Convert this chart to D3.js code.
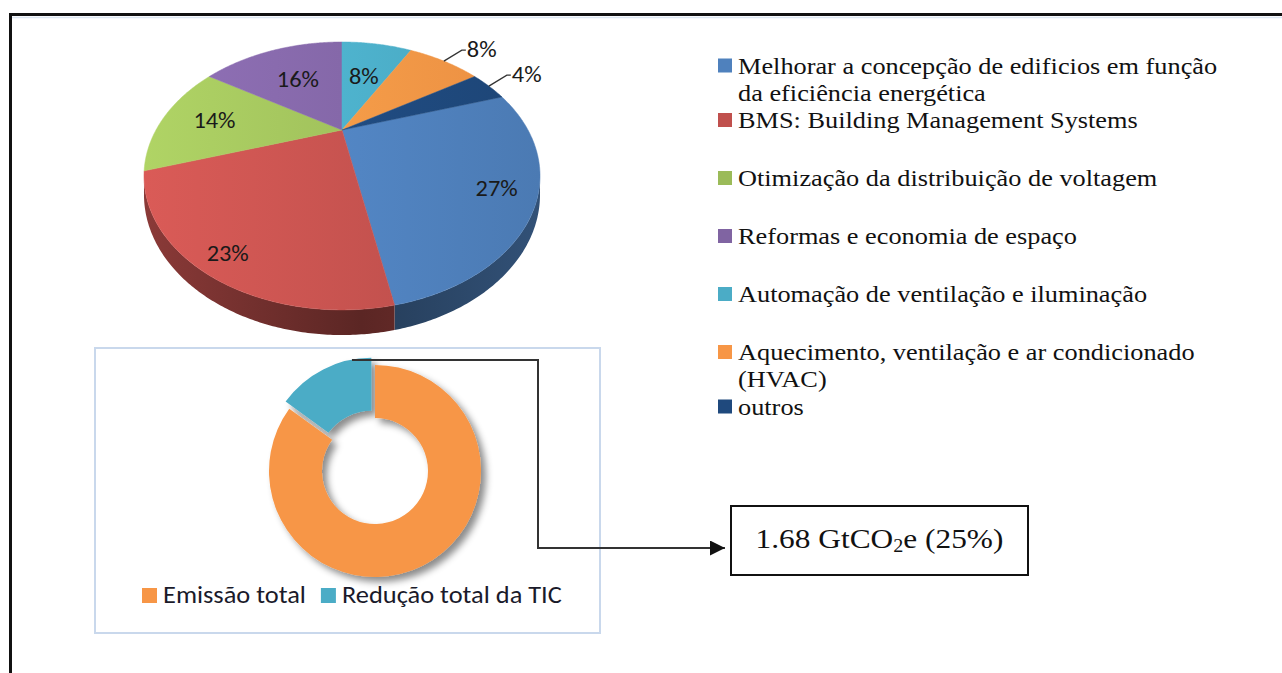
<!DOCTYPE html>
<html>
<head>
<meta charset="utf-8">
<script src="https://cdn.jsdelivr.net/npm/d3@7"></script>
<style>
  body { margin: 0; background: #fff; }
  svg { display: block; }
</style>
</head>
<body>
<div id="grafico"></div>
<script>
// dados
const categorias = [
    "Melhorar a concepção de edificios em função\nda eficiência energética",
    "BMS: Building Management Systems",
    "Otimização da distribuição de voltagem",
    "Reformas e economia de espaço",
    "Automação de ventilação e iluminação",
    "Aquecimento, ventilação e ar condicionado\n(HVAC)",
    "outros"
];
const valores = [27, 23, 14, 16, 8, 8, 4];
const cores = ["#4f81bd", "#c0504d", "#9bbb59", "#8064a2", "#4bacc6", "#f79646", "#1f497d"];
const rotuloFora = [false, false, false, false, false, true, true];

const roscaCategorias = ["Emissão total", "Redução total da TIC"];
const roscaValores = [85, 15];
const roscaCores = ["#f79646", "#4bacc6"];

const anotacao = ["1.68 GtCO", "2", "e (25%)"];

const W = 1282, H = 673;
const esticar = 1.12; // o texto da figura original está um pouco esticado na horizontal
const svg = d3.select("#grafico").append("svg").attr("width", W).attr("height", H);
const defs = svg.append("defs");

// moldura
svg.append("line").attr("x1", 9).attr("y1", 14.5).attr("x2", W).attr("y2", 14.5)
    .attr("stroke", "#111").attr("stroke-width", 3);
svg.append("line").attr("x1", 9).attr("y1", 17.5).attr("x2", W).attr("y2", 17.5)
    .attr("stroke", "#dce6f2").attr("stroke-width", 1.5);
svg.append("line").attr("x1", 10.5).attr("y1", 13).attr("x2", 10.5).attr("y2", H)
    .attr("stroke", "#111").attr("stroke-width", 3);

// --- PIZZA 3D ---
const pz = { cx: 342, cy: 130, R: 186, H: 118.2, B: -0.343, prof: 16.5 };
const proj = (t, r, baixo = 0) => {
    const u = r * Math.sin(t), v = -r * Math.cos(t);
    const w = 1 + pz.B * v;
    return [pz.cx + pz.R * u / w, pz.cy + pz.H * v / w + baixo * pz.prof / w];
};
const arco = (t0, t1, r, baixo) => {
    const n = Math.max(2, Math.ceil(Math.abs(t1 - t0) / 0.01));
    return d3.range(n + 1).map(i => proj(t0 + (t1 - t0) * i / n, r, baixo));
};

const inicio = 72 * Math.PI / 180;
const fatias = d3.pie().sort(null).startAngle(inicio).endAngle(inicio + 2 * Math.PI)(valores);

// gradientes
cores.forEach((c, i) => {
    const g = defs.append("linearGradient").attr("id", "topo" + i)
        .attr("gradientUnits", "userSpaceOnUse").attr("x1", 143).attr("y1", 0).attr("x2", 540).attr("y2", 0);
    g.append("stop").attr("offset", 0).attr("stop-color", d3.color(c).brighter(0.35));
    g.append("stop").attr("offset", 1).attr("stop-color", d3.color(c).darker(0.15));
    const s = defs.append("linearGradient").attr("id", "lado" + i)
        .attr("gradientUnits", "userSpaceOnUse").attr("x1", 143).attr("y1", 0).attr("x2", 540).attr("y2", 0);
    s.append("stop").attr("offset", 0).attr("stop-color", d3.color(c).darker(0.9));
    s.append("stop").attr("offset", 0.55).attr("stop-color", d3.color(c).darker(2.1));
    s.append("stop").attr("offset", 1).attr("stop-color", d3.color(c).darker(1.3));
});

const linha = d3.line();
const tEsq = Math.acos(pz.B), tDir = 2 * Math.PI - Math.acos(pz.B); // extremos da silhueta

const lados = svg.append("g");
fatias.forEach((f, i) => {
    const a = Math.max(f.startAngle, tEsq), b = Math.min(f.endAngle, tDir);
    if (b <= a) return;
    const pts = arco(a, b, 1, 0).concat(arco(b, a, 1, 1));
    lados.append("path").attr("d", linha(pts) + "Z").attr("fill", `url(#lado${i})`);
});

const topos = svg.append("g");
fatias.forEach((f, i) => {
    const pts = [proj(0, 0)].concat(arco(f.startAngle, f.endAngle, 1, 0));
    topos.append("path").attr("d", linha(pts) + "Z")
        .attr("fill", `url(#topo${i})`).attr("stroke", `url(#topo${i})`).attr("stroke-width", 0.5);
});

const fonteGraf = "Carlito, Lato, 'Open Sans', sans-serif";
const rotulos = svg.append("g").attr("font-family", fonteGraf).attr("font-size", 23).attr("fill", "#1a1a1a");
fatias.forEach((f, i) => {
    const m = (f.startAngle + f.endAngle) / 2;
    const txt = Math.round(f.data) + "%";
    if (!rotuloFora[i]) {
        const r = 0.735 + 0.18 * (-Math.cos(m));
        const [x, y] = proj(m, r);
        rotulos.append("text").attr("transform", `translate(${x},${y}) scale(1.06,1)`)
            .attr("text-anchor", "middle").attr("dominant-baseline", "central").text(txt);
    } else {
        const p0 = proj(m, 1), p1 = [p0[0] + 18, p0[1] - 11];
        rotulos.append("path").attr("d", linha([p0, p1, [p1[0] + 4, p1[1]]]))
            .attr("fill", "none").attr("stroke", "#333").attr("stroke-width", 1.3);
        rotulos.append("text").attr("transform", `translate(${p1[0] + 5},${p1[1] - 1}) scale(1.06,1)`)
            .attr("text-anchor", "start").attr("dominant-baseline", "central").text(txt);
    }
});

// legenda da direita
const fonteSerif = "'Liberation Serif', 'Times New Roman', serif";
const leg = svg.append("g").attr("font-family", fonteSerif).attr("font-size", 23.5).attr("fill", "#111");
let yb = 73.5;
categorias.forEach((c, i) => {
    const linhas = c.split("\n");
    leg.append("rect").attr("x", 718).attr("y", yb - 15).attr("width", 14).attr("height", 14).attr("fill", cores[i]);
    linhas.forEach((l, j) => {
        leg.append("text").attr("transform", `translate(738,${yb + j * 27}) scale(${esticar},1)`).text(l);
    });
    yb += linhas.length > 1 ? 54.5 : 58;
});

// --- ROSCA ---
const caixa = { x: 95, y: 348, w: 505, h: 285 };
svg.append("rect").attr("x", caixa.x).attr("y", caixa.y).attr("width", caixa.w).attr("height", caixa.h)
    .attr("fill", "#fff").attr("stroke", "#c9d8ec").attr("stroke-width", 2);

const sombra = defs.append("filter").attr("id", "sombra").attr("x", "-20%").attr("y", "-20%")
    .attr("width", "150%").attr("height", "150%");
sombra.append("feDropShadow").attr("dx", 5).attr("dy", 5).attr("stdDeviation", 3.5)
    .attr("flood-color", "#000").attr("flood-opacity", 0.45);

const rc = { cx: 375, cy: 471, rExt: 106, rInt: 53, expl: 8 };
const roscaFatias = d3.pie().sort(null)(roscaValores);
const arcoRosca = d3.arc().innerRadius(rc.rInt).outerRadius(rc.rExt);
const gRosca = svg.append("g").attr("transform", `translate(${rc.cx},${rc.cy})`).attr("filter", "url(#sombra)");
roscaFatias.forEach((f, i) => {
    const m = (f.startAngle + f.endAngle) / 2;
    const d = i === 1 ? rc.expl : 0;
    gRosca.append("path").attr("d", arcoRosca(f)).attr("fill", roscaCores[i])
        .attr("transform", `translate(${d * Math.sin(m)},${-d * Math.cos(m)})`);
});

const legR = svg.append("g").attr("font-family", fonteGraf).attr("font-size", 24).attr("fill", "#1a1a2a");
let xl = 142;
roscaCategorias.forEach((c, i) => {
    legR.append("rect").attr("x", xl).attr("y", 588).attr("width", 15).attr("height", 15).attr("fill", roscaCores[i]);
    const t = legR.append("text").attr("transform", `translate(${xl + 21},603) scale(1.1,1)`).text(c);
    xl += 21 + t.node().getComputedTextLength() * 1.1 + 15;
});

// seta e caixa de anotação
defs.append("marker").attr("id", "seta").attr("viewBox", "0 -5 10 10").attr("refX", 10).attr("refY", 0)
    .attr("markerWidth", 17).attr("markerHeight", 15).attr("markerUnits", "userSpaceOnUse")
    .attr("orient", "auto").append("path").attr("d", "M0,-5L10,0L0,5Z").attr("fill", "#111");

const ax = { x: 731, y: 506, w: 297, h: 69 };
const yTopo = rc.cy - rc.rExt - 5;
svg.append("path")
    .attr("d", linha([[rc.cx - 23, yTopo], [538, yTopo], [538, ax.y + 42], [ax.x - 6, ax.y + 42]]))
    .attr("fill", "none").attr("stroke", "#333").attr("stroke-width", 2).attr("marker-end", "url(#seta)");

svg.append("rect").attr("x", ax.x).attr("y", ax.y).attr("width", ax.w).attr("height", ax.h)
    .attr("fill", "#fff").attr("stroke", "#111").attr("stroke-width", 2);
const ta = svg.append("text")
    .attr("transform", `translate(${ax.x + ax.w / 2},${ax.y + 42}) scale(${esticar},1)`).attr("text-anchor", "middle")
    .attr("font-family", fonteSerif).attr("font-size", 28).attr("fill", "#111");
ta.append("tspan").text(anotacao[0]);
ta.append("tspan").attr("font-size", 18).attr("dy", 4).text(anotacao[1]);
ta.append("tspan").attr("dy", -4).text(anotacao[2]);
</script>
</body>
</html>
